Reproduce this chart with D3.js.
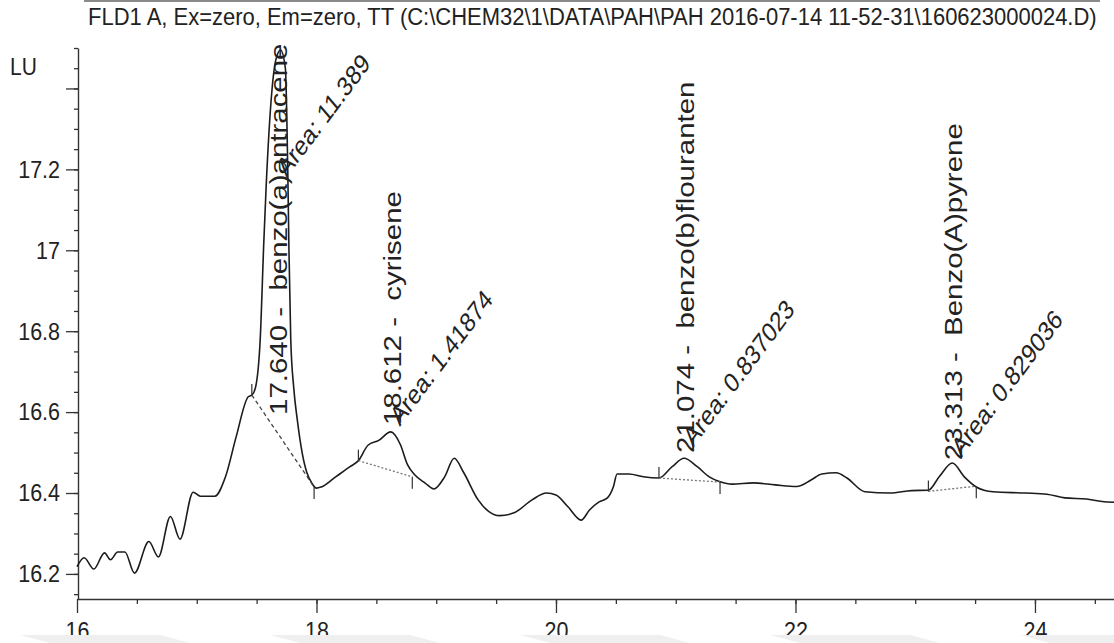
<!DOCTYPE html>
<html>
<head>
<meta charset="utf-8">
<script src="https://cdn.jsdelivr.net/npm/d3@7"></script>
<style>
  html, body { margin: 0; padding: 0; background: #fff; }
  svg { display: block; }
  text { font-family: "Liberation Sans", Arial, sans-serif; fill: #222; }
</style>
</head>
<body>
<div id="chart"></div>
<script>
// ---------- data ----------
const titleText = "FLD1 A, Ex=zero, Em=zero, TT (C:\\CHEM32\\1\\DATA\\PAH\\PAH 2016-07-14 11-52-31\\160623000024.D)";
const yUnit = "LU";

const timeMin = [
  16.00, 16.06, 16.14, 16.23, 16.28, 16.34, 16.40, 16.48, 16.60, 16.68,
  16.78, 16.86, 16.97, 17.03, 17.15, 17.24, 17.33, 17.43, 17.46, 17.49,
  17.53, 17.56, 17.58, 17.66, 17.70, 17.74, 17.76, 17.77, 17.785, 17.81,
  17.84, 17.88, 17.92, 17.96, 18.00, 18.04, 18.16, 18.28, 18.35, 18.43,
  18.52, 18.62, 18.70, 18.76, 18.82, 18.91, 18.98, 19.07, 19.15, 19.23,
  19.35, 19.44, 19.53, 19.65, 19.80, 19.92, 20.00, 20.10, 20.21, 20.28,
  20.36, 20.43, 20.48, 20.51, 20.61, 20.73, 20.86, 20.97, 21.07, 21.18,
  21.28, 21.37, 21.47, 21.65, 21.83, 22.01, 22.13, 22.22, 22.34, 22.43,
  22.58, 22.79, 22.97, 23.11, 23.20, 23.31, 23.41, 23.51, 23.65, 23.92,
  24.10, 24.25, 24.43, 24.56, 24.66
];
const signalLU = [
  16.218, 16.240, 16.212, 16.252, 16.235, 16.254, 16.254, 16.202, 16.280, 16.242,
  16.342, 16.286, 16.402, 16.392, 16.392, 16.440, 16.540, 16.638, 16.642, 16.660,
  16.780, 17.020, 17.160, 17.470, 17.495, 17.450, 17.200, 17.000, 16.780, 16.660,
  16.580, 16.500, 16.450, 16.425, 16.412, 16.415, 16.440, 16.465, 16.480, 16.518,
  16.530, 16.551, 16.520, 16.470, 16.445, 16.424, 16.410, 16.440, 16.486, 16.450,
  16.383, 16.354, 16.344, 16.351, 16.383, 16.400, 16.395, 16.366, 16.333, 16.358,
  16.378, 16.388, 16.416, 16.447, 16.447, 16.440, 16.437, 16.465, 16.486, 16.465,
  16.440, 16.428, 16.422, 16.425, 16.420, 16.416, 16.432, 16.447, 16.450, 16.437,
  16.403, 16.400, 16.406, 16.407, 16.440, 16.474, 16.440, 16.415, 16.403, 16.400,
  16.397, 16.388, 16.385, 16.379, 16.377
];

const peakRT    = ["17.640", "18.612", "21.074", "23.313"];
const peakName  = ["benzo(a)antracene", "cyrisene", "benzo(b)flouranten", "Benzo(A)pyrene"];
const peakArea  = ["11.389", "1.41874", "0.837023", "0.829036"];
const baseStartMin = [17.46, 18.35, 20.86, 23.11];
const baseStartLU  = [16.642, 16.480, 16.437, 16.404];
const baseEndMin   = [17.98, 18.80, 21.37, 23.51];
const baseEndLU    = [16.415, 16.440, 16.427, 16.417];
const labelLU = [16.593, 16.568, 16.499, 16.481];
const areaLU  = [17.178, 16.563, 16.511, 16.486];

const xTickMajor = [16, 18, 20, 22, 24];
const yTickMajor = [16.2, 16.4, 16.6, 16.8, 17, 17.2, 17.4];
const yTickLabelled = [16.2, 16.4, 16.6, 16.8, 17, 17.2];

// ---------- layout ----------
const W = 1114, H = 643;
const svg = d3.select("#chart").append("svg").attr("width", W).attr("height", H);

const x = d3.scaleLinear().domain([16, 24.66]).range([77, 1114]);
const y = d3.scaleLinear().domain([16.138, 17.5]).range([599, 48]);

// top border remnant
svg.append("line").attr("x1", 84).attr("x2", 1100).attr("y1", 1).attr("y2", 1)
  .attr("stroke", "#8a8a8a").attr("stroke-width", 2);

// title
svg.append("text").attr("transform", "translate(88,25) scale(1,1.08)")
  .attr("font-size", 22).text(titleText);

// unit label
svg.append("text").attr("transform", "translate(10,75) scale(1,1.12)")
  .attr("font-size", 21).text(yUnit);

// ---------- axes ----------
const axisColor = "#333";
function styleAxis(g) {
  g.selectAll(".domain").attr("stroke", axisColor).attr("stroke-width", 1.4);
  g.selectAll(".tick line").attr("stroke", axisColor).attr("stroke-width", 1.3);
  g.selectAll("text").attr("font-size", 21.5).attr("fill", "#222")
    .attr("font-family", "Liberation Sans, Arial, sans-serif");
}

// y minor
const yMinorG = svg.append("g").attr("transform", "translate(78,0)")
  .call(d3.axisLeft(y).tickValues(d3.range(16.15, 17.501, 0.05)).tickSize(4).tickFormat(""));
yMinorG.select(".domain").remove();
styleAxis(yMinorG);
// y major
const yMajorG = svg.append("g").attr("transform", "translate(78,0)")
  .call(d3.axisLeft(y).tickValues(yTickMajor).tickSize(12).tickSizeOuter(0).tickPadding(6)
    .tickFormat(d => yTickLabelled.some(v => Math.abs(v - d) < 1e-9) ? d3.format("~g")(d) : ""));
styleAxis(yMajorG);
yMajorG.selectAll("text").attr("dy", "0.33em").attr("transform", "scale(1,1.1)");

// x minor
const xMinorG = svg.append("g").attr("transform", "translate(0,599)")
  .call(d3.axisBottom(x).tickValues(d3.range(16.5, 24.66, 0.5)).tickSize(5).tickFormat(""));
xMinorG.select(".domain").remove();
styleAxis(xMinorG);
// x major
const xMajorG = svg.append("g").attr("transform", "translate(0,599)")
  .call(d3.axisBottom(x).tickValues(xTickMajor).tickSize(14).tickSizeOuter(0).tickPadding(7)
    .tickFormat(d3.format("d")));
styleAxis(xMajorG);
xMajorG.selectAll("text").attr("transform", "scale(1,1.1)");

// ---------- trace ----------
const pts = timeMin.map((t, i) => [t, signalLU[i]]);
const line = d3.line().x(d => x(d[0])).y(d => y(d[1])).curve(d3.curveMonotoneX);
svg.append("path").datum(pts).attr("d", line)
  .attr("fill", "none").attr("stroke", "#1c1c1c").attr("stroke-width", 1.6)
  .attr("stroke-linejoin", "round");

// ---------- integration baselines and marks ----------
peakRT.forEach((rt, i) => {
  const x0 = x(baseStartMin[i]), y0 = y(baseStartLU[i]);
  const x1 = x(baseEndMin[i]), y1 = y(baseEndLU[i]);
  svg.append("line").attr("x1", x0).attr("y1", y0).attr("x2", x1).attr("y2", y1)
    .attr("stroke", i === 0 ? "#444" : "#777").attr("stroke-width", 1.3)
    .attr("stroke-dasharray", i === 0 ? "4,3" : "2,2");
  svg.append("line").attr("x1", x0).attr("x2", x0).attr("y1", y0).attr("y2", y0 - 11)
    .attr("stroke", "#333").attr("stroke-width", 1.2);
  svg.append("line").attr("x1", x1).attr("x2", x1).attr("y1", y1).attr("y2", y1 + 12)
    .attr("stroke", "#333").attr("stroke-width", 1.2);
});

// ---------- peak labels ----------
peakRT.forEach((rt, i) => {
  // apex of the trace inside the integration window
  let best = null;
  pts.forEach(p => {
    if (p[0] >= baseStartMin[i] && p[0] <= baseEndMin[i] && (!best || p[1] > best[1])) best = p;
  });
  const ax = x(best[0]);
  svg.append("text")
    .attr("transform", `translate(${ax + (i === 0 ? 6 : 10)},${y(labelLU[i])}) scale(1,1.28) rotate(-90)`)
    .attr("font-size", 23)
    .style("white-space", "pre")
    .attr("xml:space", "preserve")
    .text(rt + " -  " + peakName[i]);
  svg.append("text")
    .attr("transform", `translate(${ax + (i === 0 ? 6 : 9)},${y(areaLU[i])}) scale(1,1.25) rotate(-47)`)
    .attr("font-size", 22)
    .text("Area: " + peakArea[i]);
});

// ---------- bottom band ----------
svg.append("rect").attr("x", 0).attr("y", 635).attr("width", W).attr("height", 8).attr("fill", "#fff");
const band = svg.append("g");
[0, 1, 2, 3, 4].forEach(k => {
  const bx = k * 250;
  band.append("path")
    .attr("d", `M${bx + 20},635 L${bx + 160},635 L${bx + 190},643 L${bx + 50},643 Z`)
    .attr("fill", "#efefef");
});
</script>
</body>
</html>
